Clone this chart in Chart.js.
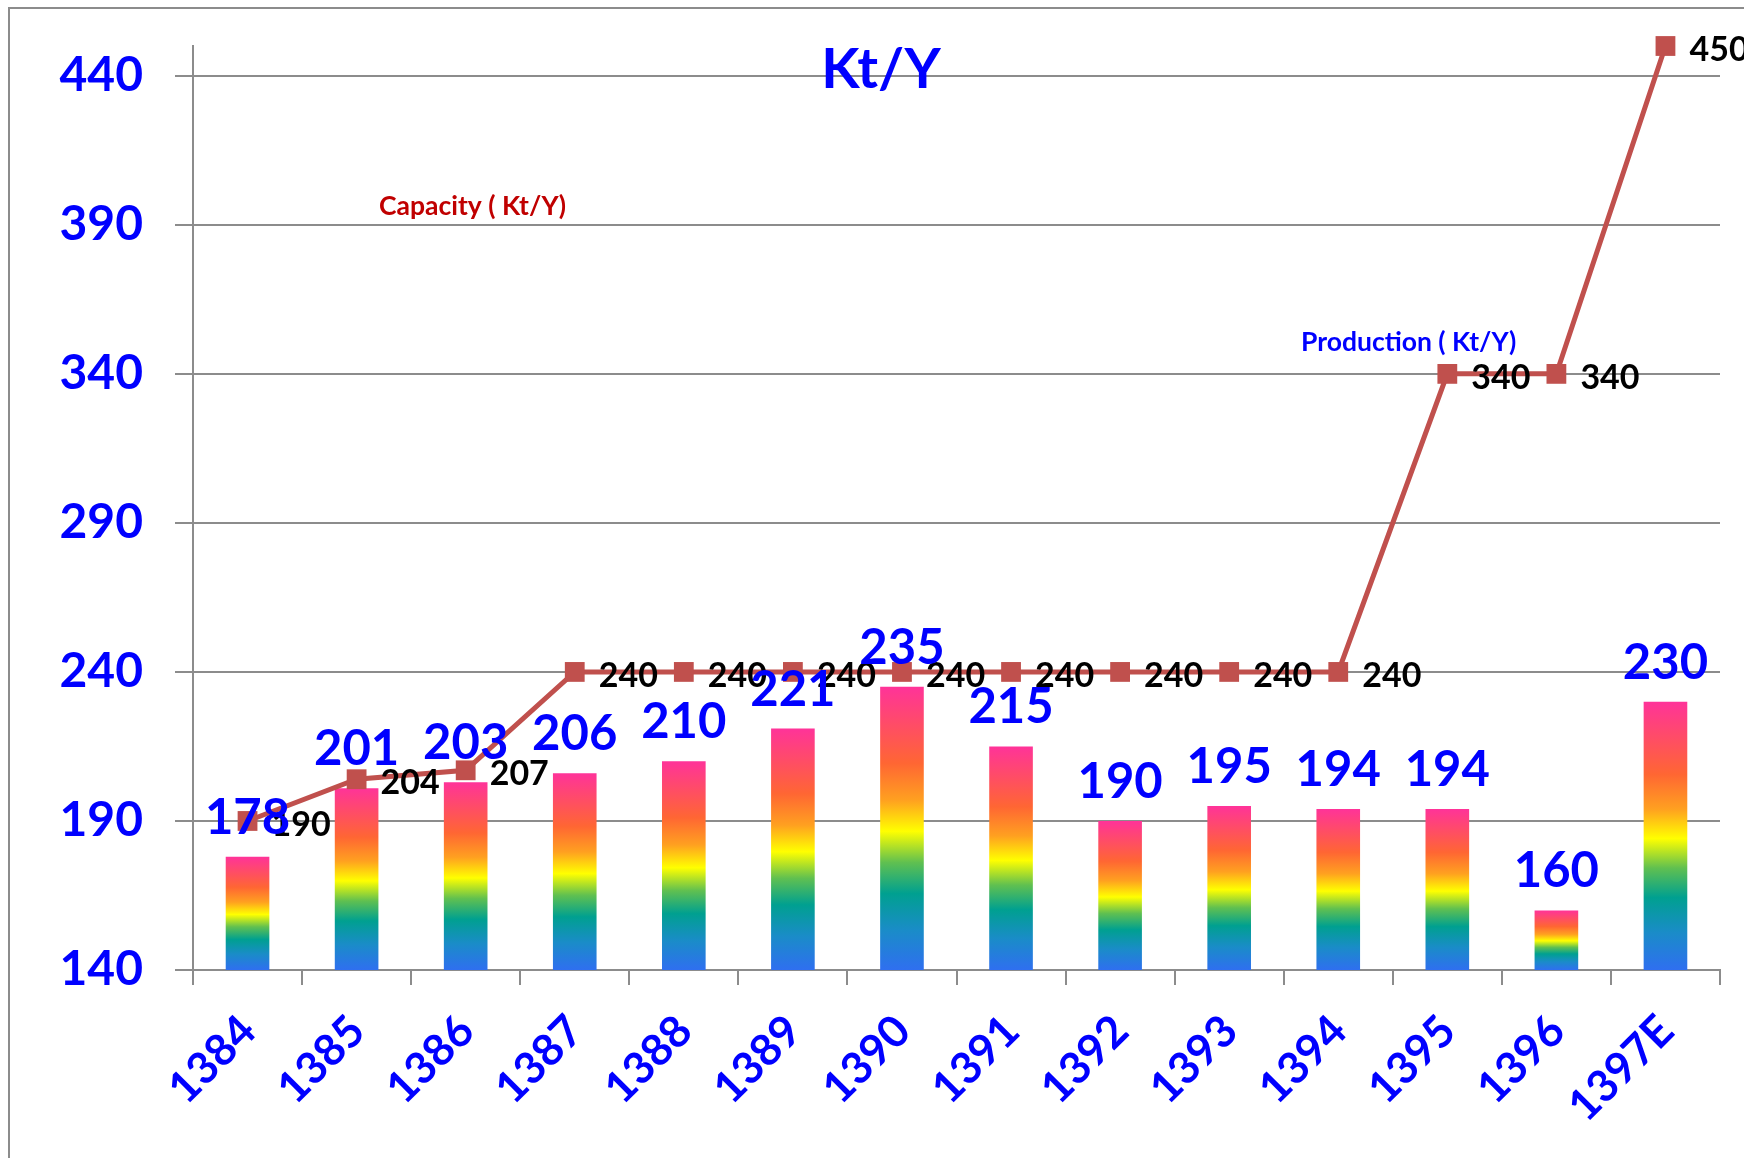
<!DOCTYPE html>
<html>
<head>
<meta charset="utf-8">
<script src="https://cdn.jsdelivr.net/npm/chart.js@4.4.1/dist/chart.umd.min.js"></script>
<style>
  html, body { margin: 0; padding: 0; background: #fff; overflow: hidden; }
  canvas { display: block; }
</style>
</head>
<body>
<canvas id="chart" width="1744" height="1158"></canvas>
<script>
// data
const years = ['1384', '1385', '1386', '1387', '1388', '1389', '1390', '1391', '1392', '1393', '1394', '1395', '1396', '1397E'];
const production = [178, 201, 203, 206, 210, 221, 235, 215, 190, 195, 194, 194, 160, 230];
const capacity = [190, 204, 207, 240, 240, 240, 240, 240, 240, 240, 240, 340, 340, 450];
const yTicks = [140, 190, 240, 290, 340, 390, 440];

const gridGray = '#8c8c8c';
const blue = '#0000ff';

// rainbow fill, bottom to top of each bar
function barFill(context) {
    if (context.type !== 'data') return '#ff3399';
    const chart = context.chart;
    const y = chart.scales.y;
    if (!y) return '#ff3399';
    const top = y.getPixelForValue(context.raw);
    const bottom = y.getPixelForValue(y.min);
    if (!isFinite(top) || !isFinite(bottom) || top === bottom) return '#ff3399';
    const g = chart.ctx.createLinearGradient(0, bottom, 0, top);
    g.addColorStop(0, '#2f6ff0');
    g.addColorStop(0.14, '#1a8cc8');
    g.addColorStop(0.27, '#00a090');
    g.addColorStop(0.38, '#60c050');
    g.addColorStop(0.49, '#ffff00');
    g.addColorStop(0.6, '#ffa020');
    g.addColorStop(0.73, '#ff6633');
    g.addColorStop(1, '#ff3399');
    return g;
}

// frame, title and the two captions
const decor = {
    id: 'decor',
    beforeDraw(chart) {
        const ctx = chart.ctx;
        ctx.save();
        ctx.strokeStyle = gridGray;
        ctx.lineWidth = 2;
        ctx.strokeRect(9, 8, 2000, 2000);
        ctx.restore();
    },
    afterDraw(chart) {
        const ctx = chart.ctx;
        ctx.save();
        ctx.textBaseline = 'alphabetic';
        ctx.textAlign = 'center';
        ctx.fillStyle = blue;
        ctx.font = 'bold 56px Lato';
        ctx.fillText('Kt/Y', 881, 88);
        ctx.textAlign = 'left';
        ctx.font = 'bold 26.5px Lato';
        ctx.fillStyle = '#c00000';
        ctx.fillText('Capacity ( Kt/Y)', 379, 215);
        ctx.fillStyle = blue;
        ctx.fillText('Production ( Kt/Y)', 1301, 351);
        ctx.restore();
    }
};

// value labels
const valueLabels = {
    id: 'valueLabels',
    afterDatasetsDraw(chart) {
        const ctx = chart.ctx;
        ctx.save();
        ctx.textBaseline = 'alphabetic';
        ctx.textAlign = 'left';
        ctx.fillStyle = '#000';
        ctx.font = 'bold 34px Lato';
        chart.getDatasetMeta(1).data.forEach((pt, i) => {
            ctx.fillText(String(capacity[i]), pt.x + 24, pt.y + 15);
        });
        ctx.textAlign = 'center';
        ctx.fillStyle = blue;
        ctx.font = 'bold 49px Lato';
        chart.getDatasetMeta(0).data.forEach((bar, i) => {
            ctx.fillText(String(production[i]), bar.x, bar.y - 23);
        });
        ctx.restore();
    }
};

function drawChart() {
    new Chart(document.getElementById('chart'), {
        data: {
            labels: years,
            datasets: [
                {
                    type: 'bar',
                    label: 'Production ( Kt/Y)',
                    data: production,
                    backgroundColor: barFill,
                    barPercentage: 0.4,
                    categoryPercentage: 1.0,
                    order: 1
                },
                {
                    type: 'line',
                    label: 'Capacity ( Kt/Y)',
                    data: capacity,
                    borderColor: '#c0504d',
                    borderWidth: 5,
                    pointStyle: 'rect',
                    pointRadius: 14,
                    pointBackgroundColor: '#c0504d',
                    pointBorderWidth: 0,
                    tension: 0,
                    clip: false,
                    order: 0
                }
            ]
        },
        options: {
            responsive: false,
            animation: false,
            layout: { padding: { top: 46, right: 24, left: 0, bottom: 0 } },
            plugins: {
                legend: { display: false },
                tooltip: { enabled: false }
            },
            scales: {
                x: {
                    offset: true,
                    afterFit(scale) {
                        scale.height = 188;
                        scale.paddingLeft = 0;
                        scale.paddingRight = 0;
                    },
                    grid: { offset: true, drawOnChartArea: false, color: gridGray, lineWidth: 2, tickLength: 15 },
                    border: { color: gridGray, width: 2 },
                    ticks: {
                        color: blue,
                        font: { family: 'Lato', size: 44, weight: 'bold' },
                        minRotation: 45,
                        maxRotation: 45,
                        padding: 20,
                        labelOffset: 1,
                        autoSkip: false
                    }
                },
                y: {
                    min: 140,
                    max: 450,
                    afterBuildTicks(scale) { scale.ticks = yTicks.map(v => ({ value: v })); },
                    afterFit(scale) {
                        scale.width = 193;
                        scale.paddingTop = 0;
                        scale.paddingBottom = 0;
                    },
                    grid: { color: gridGray, lineWidth: 2, tickLength: 18 },
                    border: { color: gridGray, width: 2 },
                    ticks: {
                        color: blue,
                        font: { family: 'Lato', size: 48, weight: 'bold' },
                        padding: 32
                    }
                }
            }
        },
        plugins: [decor, valueLabels]
    });
}

window.addEventListener('load', () => {
    Promise.all([
        document.fonts.load('bold 48px Lato'),
        document.fonts.load('bold 29px Lato')
    ]).then(drawChart, drawChart);
});
</script>
</body>
</html>
